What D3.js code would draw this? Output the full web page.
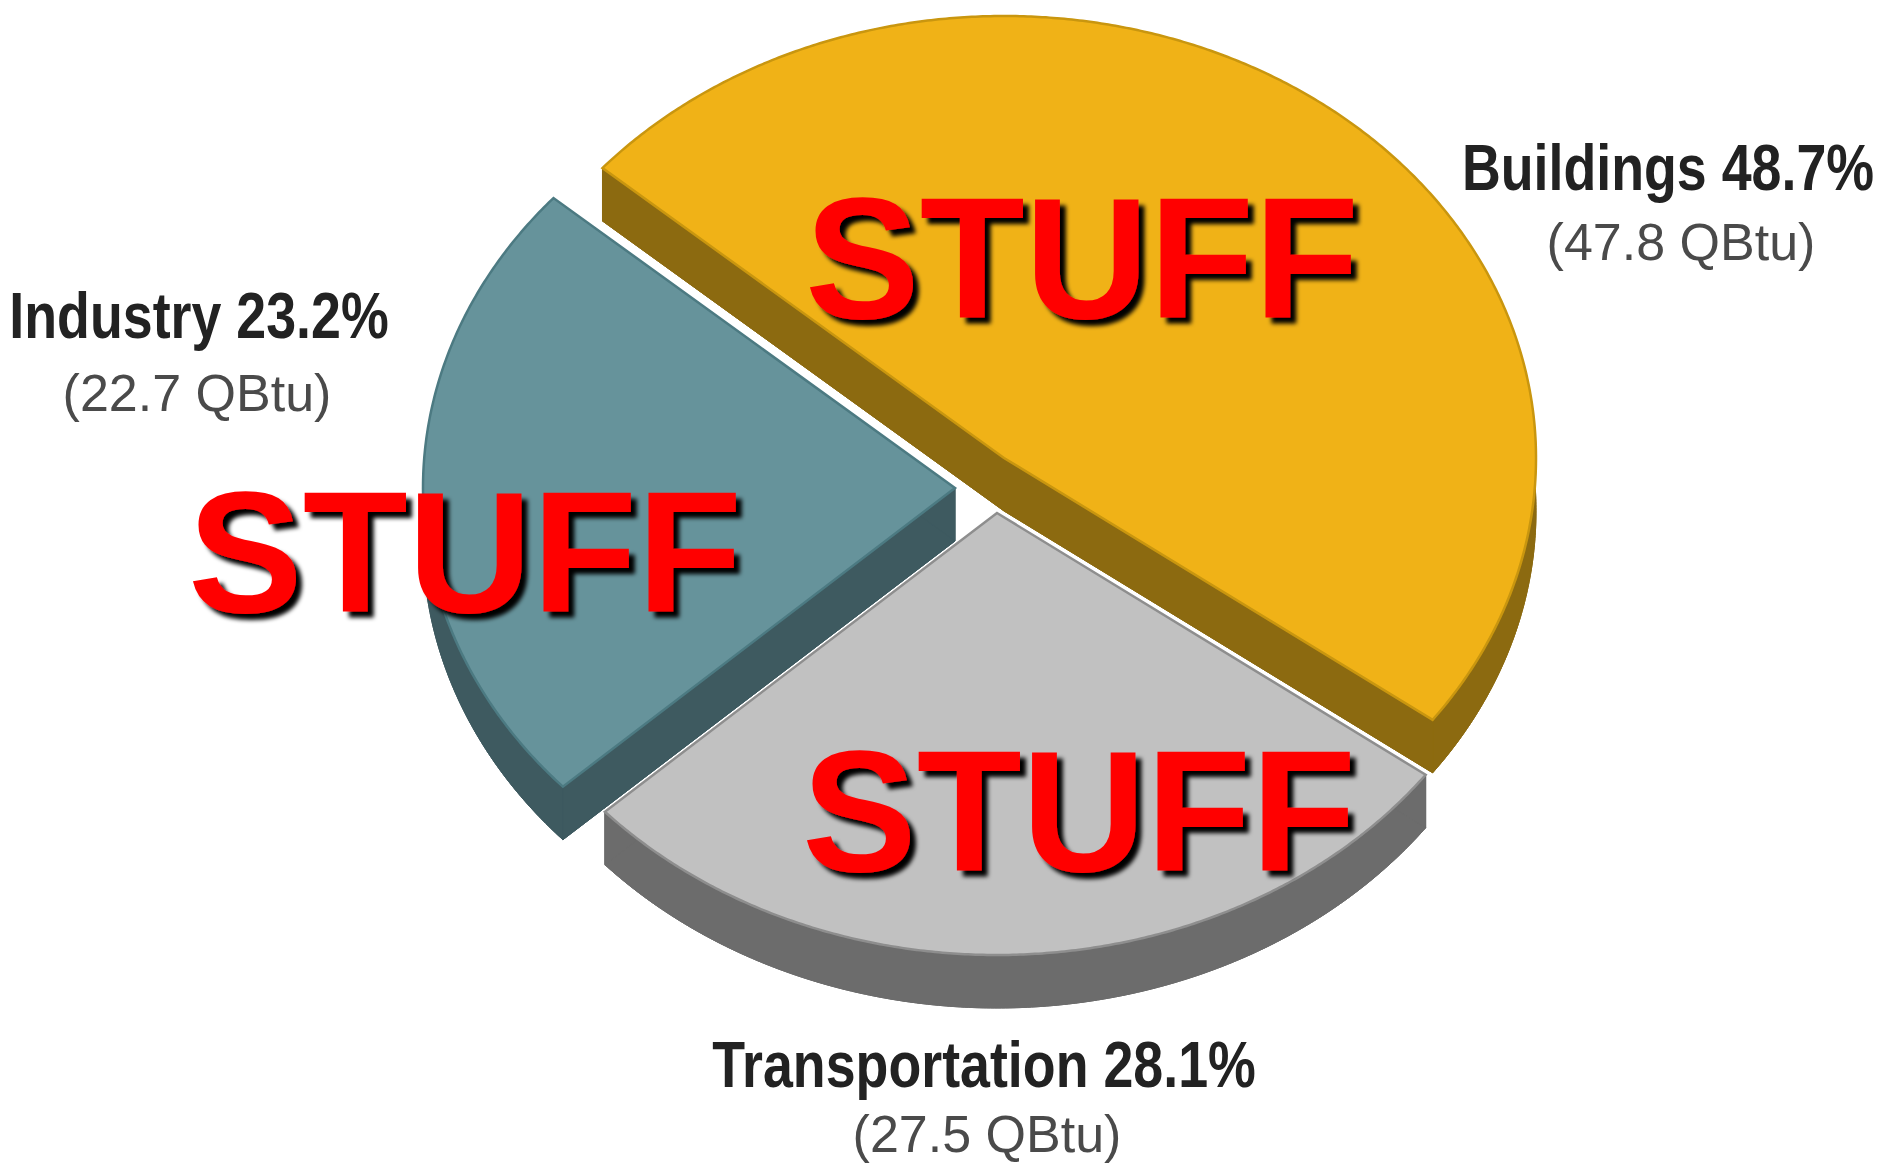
<!DOCTYPE html>
<html><head><meta charset="utf-8">
<script src="https://cdn.jsdelivr.net/npm/d3@7"></script>
<style>html,body{margin:0;padding:0;background:#fff;overflow:hidden}</style>
</head><body><svg id="chart" width="1883" height="1166"></svg>
<script>
// ---- data ----
const categories = ["Buildings", "Transportation", "Industry"];
const sharePct = [48.7, 28.1, 23.2];
const qbtu = [47.8, 27.5, 22.7];
const overlayWords = ["STUFF", "STUFF", "STUFF"];

// ---- layout / style ----
const W = 1883, H = 1166;
const cx = 995, cy = 488, rx = 532, ry = 442, depth = 53;
const explodeOffset = { Buildings: [9, -30], Transportation: [2, 25], Industry: [-40, 0] };
const topColor = d3.scaleOrdinal(categories, ["#F0B217", "#C1C1C1", "#66939B"]);
const sideColor = d3.scaleOrdinal(categories, ["#8C6A10", "#6C6C6C", "#3E5A60"]);
const edgeColor = d3.scaleOrdinal(categories, ["#C9960F", "#8E8E8E", "#4C7A82"]);
const labelLayout = {
  Buildings: { x: 1668, y: 190, sx: 1681, sy: 260 },
  Transportation: { x: 984, y: 1087, sx: 987, sy: 1152 },
  Industry: { x: 199, y: 338, sx: 197, sy: 411 }
};
const titleSqueeze = 0.84;
const overlayPos = [[805, 318], [188, 612], [802, 871]];

const svg = d3.select("#chart");
svg.append("rect").attr("width", W).attr("height", H).attr("fill", "#fff");
const defs = svg.append("defs");
const flt = defs.append("filter").attr("id", "shadow")
  .attr("x", "-10%").attr("y", "-20%").attr("width", "130%").attr("height", "150%");
flt.append("feDropShadow").attr("dx", 6).attr("dy", 6).attr("stdDeviation", 2.2)
  .attr("flood-color", "#000").attr("flood-opacity", 1);

const start = -49 * Math.PI / 180;
const pie = d3.pie().sort(null).value(d => d.v).startAngle(start).endAngle(start + 2 * Math.PI);
const data = categories.map((c, i) => ({ c, v: sharePct[i], q: qbtu[i] }));
const arcs = pie(data);
const line = d3.line().x(d => d[0]).y(d => d[1]);

function P(ox, oy, a, dz) {
  const t = a - Math.PI / 2;
  return [ox + rx * Math.cos(t), oy + ry * Math.sin(t) + dz];
}

// back to front ordering by mid-angle vertical component
const order = arcs.slice().sort((a, b) =>
  Math.sin((a.startAngle + a.endAngle) / 2 - Math.PI / 2) - Math.sin((b.startAngle + b.endAngle) / 2 - Math.PI / 2));

const g = svg.append("g");
order.forEach(d => {
  const off = explodeOffset[d.data.c];
  const ox = cx + off[0], oy = cy + off[1];
  const n = Math.max(8, Math.ceil((d.endAngle - d.startAngle) / (0.4 * Math.PI / 180)));
  const angs = d3.range(n + 1).map(i => d.startAngle + (d.endAngle - d.startAngle) * i / n);
  const topArc = angs.map(a => P(ox, oy, a, 0));
  const botArc = angs.map(a => P(ox, oy, a, depth));
  const apex = [ox, oy], apexB = [ox, oy + depth];
  const sg = g.append("g").attr("class", "slice");
  const side = sideColor(d.data.c);
  const hull = line([apex, ...topArc, botArc[botArc.length - 1], ...botArc.slice().reverse(), apexB]) + "Z";
  sg.append("path").attr("d", hull).attr("fill", "#fff").attr("stroke", "#fff").attr("stroke-width", 5)
    .attr("stroke-linejoin", "round");
  sg.append("path").attr("d", line([apexB, ...botArc]) + "Z").attr("fill", side).attr("stroke", side).attr("stroke-width", 1);
  sg.append("path").attr("d", line([...topArc, ...botArc.slice().reverse()]) + "Z").attr("fill", side).attr("stroke", side).attr("stroke-width", 1);
  [0, topArc.length - 1].forEach(k => {
    sg.append("path").attr("d", line([apex, topArc[k], botArc[k], apexB]) + "Z")
      .attr("fill", side).attr("stroke", side).attr("stroke-width", 1);
  });
  sg.append("path").attr("d", line([apex, ...topArc]) + "Z")
    .attr("fill", topColor(d.data.c)).attr("stroke", edgeColor(d.data.c)).attr("stroke-width", 2.5)
    .attr("stroke-linejoin", "miter");
});

// labels
arcs.forEach(d => {
  const L = labelLayout[d.data.c];
  const t = svg.append("g").attr("class", "label");
  t.append("g").attr("transform", `translate(${L.x},${L.y}) scale(${titleSqueeze},1)`)
    .append("text").attr("x", 0).attr("y", 0).attr("text-anchor", "middle")
    .attr("font-family", "'Liberation Sans',Arial,sans-serif")
    .attr("font-weight", "bold").attr("font-size", 64).attr("fill", "#222")
    .text(`${d.data.c} ${d3.format(".1f")(d.data.v)}%`);
  t.append("text").attr("x", L.sx).attr("y", L.sy).attr("text-anchor", "middle")
    .attr("font-family", "'Liberation Sans',Arial,sans-serif")
    .attr("font-size", 52).attr("fill", "#4a4a4a")
    .text(`(${d3.format(".1f")(d.data.q)} QBtu)`);
});

// overlay words
overlayWords.forEach((w, i) => {
  svg.append("text").attr("x", overlayPos[i][0]).attr("y", overlayPos[i][1])
    .attr("font-family", "'Liberation Sans',Arial,sans-serif").attr("font-weight", "bold")
    .attr("font-size", 172).attr("fill", "#FF0000").attr("filter", "url(#shadow)")
    .text(w);
});
</script>
</body></html>
